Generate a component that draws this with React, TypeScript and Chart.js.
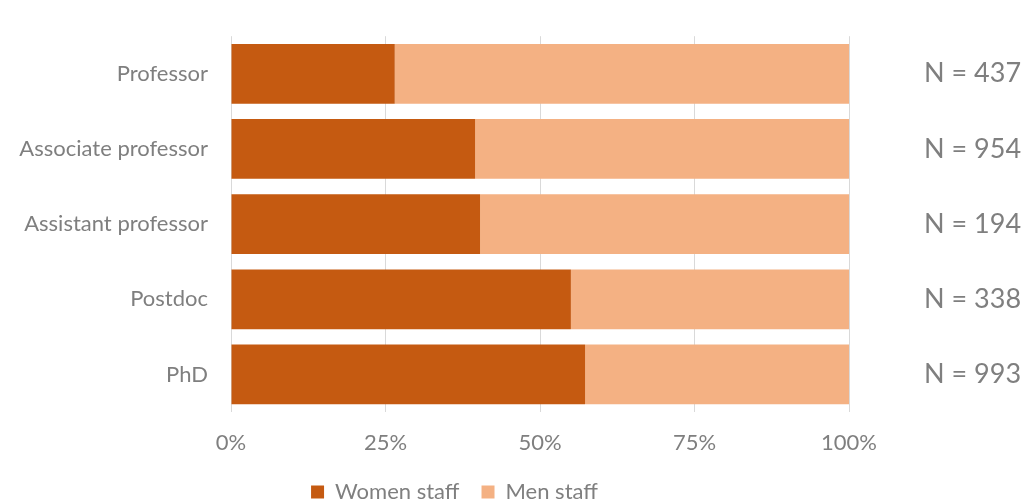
import React, { useEffect, useRef } from "react";
import { Chart, registerables } from "chart.js";

Chart.register(...registerables);

const categories = ["Professor", "Associate professor", "Assistant professor", "Postdoc", "PhD"];
const womenShare = [26.5, 39.5, 40.3, 55.0, 57.3];
const menShare = [73.5, 60.5, 59.7, 45.0, 42.7];
const nLabels = ["N = 437", "N = 954", "N = 194", "N = 338", "N = 993"];
const xTicks = [0, 25, 50, 75, 100];

const FONT = "Lato, 'Open Sans', sans-serif";
const GRAY = "#7f7f7f";

const nLabelPlugin = {
  id: "nLabels",
  afterLayout(chart: any) {
    if (chart.legend) {
      chart.legend.left += 60;
    }
  },
  afterDraw(chart: any) {
    const ctx = chart.ctx;
    const y = chart.scales.y;
    ctx.save();
    ctx.font = `27px ${FONT}`;
    ctx.fillStyle = GRAY;
    ctx.textAlign = "left";
    ctx.textBaseline = "middle";
    nLabels.forEach((t, i) => {
      ctx.fillText(t, 924, y.getPixelForValue(i));
    });
    ctx.restore();
  },
};

export default function App() {
  const ref = useRef<HTMLCanvasElement | null>(null);
  useEffect(() => {
    document.body.style.margin = "0";
    document.body.style.overflow = "hidden";
    const chart = new Chart(ref.current!, {
      type: "bar",
      data: {
        labels: categories,
        datasets: [
          {
            label: "Women staff",
            data: womenShare,
            backgroundColor: "#C55A11",
            barPercentage: 0.795,
            categoryPercentage: 1,
          },
          {
            label: "Men staff",
            data: menShare,
            backgroundColor: "#F4B183",
            barPercentage: 0.795,
            categoryPercentage: 1,
          },
        ],
      },
      options: {
        indexAxis: "y",
        animation: false,
        responsive: false,
        maintainAspectRatio: false,
        layout: { padding: { left: 0, right: 174, top: 35, bottom: 0 } },
        scales: {
          x: {
            stacked: true,
            min: 0,
            max: 100,
            afterBuildTicks(scale: any) {
              scale.ticks = xTicks.map((v) => ({ value: v }));
            },
            afterFit(scale: any) {
              scale.height = 47;
            },
            ticks: {
              padding: 18,
              color: GRAY,
              font: { family: FONT, size: 22 },
              callback: (v: any) => `${v}%`,
            },
            grid: { color: "#D9D9D9", lineWidth: 1, drawTicks: false },
            border: { display: false },
          },
          y: {
            stacked: true,
            afterFit(scale: any) {
              scale.width = 231;
            },
            ticks: {
              padding: 23,
              color: GRAY,
              font: { family: FONT, size: 22 },
            },
            grid: { display: false, drawTicks: false },
            border: { display: false },
          },
        },
        plugins: {
          legend: {
            position: "bottom",
            labels: {
              boxWidth: 13,
              boxHeight: 13,
              padding: 22,
              color: GRAY,
              font: { family: FONT, size: 22 },
            },
          },
          tooltip: { enabled: false },
        },
      },
      plugins: [nLabelPlugin],
    });
    return () => chart.destroy();
  }, []);
  return (
    <div style={{ width: 1023, height: 500, overflow: "hidden" }}>
      <canvas ref={ref} width={1023} height={513} style={{ display: "block" }} />
    </div>
  );
}
